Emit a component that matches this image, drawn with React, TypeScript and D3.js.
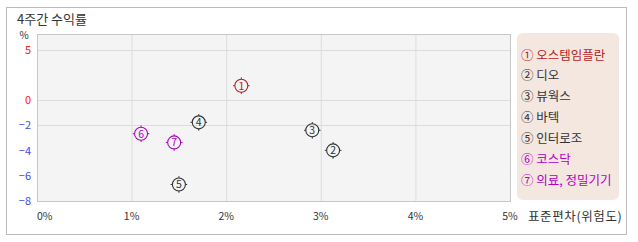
import React from "react";
import * as d3 from "d3";

const names = ["오스템임플란", "디오", "뷰웍스", "바텍", "인터로조", "코스닥", "의료, 정밀기기"];
const marks = ["①", "②", "③", "④", "⑤", "⑥", "⑦"];
const stdDev = [2.16, 3.13, 2.91, 1.71, 1.5, 1.1, 1.45];
const returns = [1.43, -3.99, -2.4, -1.77, -6.69, -2.67, -3.36];
const colors = ["#b81c1c", "#333333", "#333333", "#333333", "#333333", "#b000c4", "#b000c4"];
const xTicks = [0, 1, 2, 3, 4, 5];
const yTicks = [5, 0, -2, -4, -6, -8];
const yGrid = [5, 0, -2];

const FONT = "'Noto Sans CJK KR', 'Noto Sans', sans-serif";

export default function App() {
  const left = 37, right = 510, top = 34, bottom = 201;
  const x = d3.scaleLinear().domain([0, 5]).range([left, right]);
  const y = d3.scaleLinear().domain([-8, 0, 5]).range([bottom, 100, 50]);
  const legendX = 517, legendY = 33;
  const r = 6.5;
  return (
    <svg width={638} height={242} style={{ position: "fixed", left: 0, top: 0, display: "block" }} fontFamily={FONT}>
      <rect x={6.5} y={7.5} width={620} height={227} fill="#fff" stroke="#bbb" />
      <text x={17} y={24} fontSize={13} fill="#333">4주간 수익률</text>
      <rect x={left} y={top} width={right - left} height={bottom - top} fill="#f4f4f4" />
      {xTicks.slice(1, -1).map((t) => (
        <line key={"gx" + t} x1={x(t) + 0.5} x2={x(t) + 0.5} y1={top} y2={bottom} stroke="#dcdcdc" />
      ))}
      {yGrid.map((t) => (
        <line key={"gy" + t} x1={left} x2={right} y1={Math.round(y(t)) + 0.5} y2={Math.round(y(t)) + 0.5} stroke="#dcdcdc" />
      ))}
      <rect x={left + 0.5} y={top + 0.5} width={right - left} height={bottom - top} fill="none" stroke="#c8c8c8" />
      <text x={24} y={39} fontSize={10} textAnchor="middle" fill="#333">%</text>
      {yTicks.map((t) => (
        <text key={"yt" + t} x={31} y={y(t) + 4} fontSize={11} textAnchor="end" fill={t >= 0 ? "#ff1a1a" : "#4444ee"}>
          {t < 0 ? "−" + Math.abs(t) : String(t)}
        </text>
      ))}
      {xTicks.map((t, i) => (
        <text key={"xt" + t} x={i === 0 ? left : x(t)} y={220} fontSize={10.5} textAnchor={i === 0 ? "start" : "middle"} fill="#333">
          {t + "%"}
        </text>
      ))}
      <text x={528} y={221} fontSize={12.5} letterSpacing={0.6} fill="#333">표준편차(위험도)</text>
      {names.map((n, i) => {
        const cx = x(stdDev[i]);
        const cy = y(returns[i]);
        const c = colors[i];
        return (
          <g key={"p" + i}>
            <circle cx={cx} cy={cy} r={r} fill="none" stroke={c} strokeWidth={1.1} />
            <line x1={cx} x2={cx} y1={cy - r - 1.8} y2={cy - r} stroke={c} />
            <line x1={cx} x2={cx} y1={cy + r} y2={cy + r + 1.8} stroke={c} />
            <line x1={cx - r - 1.8} x2={cx - r} y1={cy} y2={cy} stroke={c} />
            <line x1={cx + r} x2={cx + r + 1.8} y1={cy} y2={cy} stroke={c} />
            <text x={cx} y={cy + 3.8} fontSize={10.5} textAnchor="middle" fill={c}>{String(i + 1)}</text>
          </g>
        );
      })}
      <rect x={legendX} y={legendY} width={102} height={167} rx={6} fill="#f4e7e0" />
      {names.map((n, i) => (
        <text key={"lg" + i} x={521} y={59.5 + i * 20.9} fontSize={12.5} fill={colors[i]}>
          {marks[i] + " " + n}
        </text>
      ))}
    </svg>
  );
}
